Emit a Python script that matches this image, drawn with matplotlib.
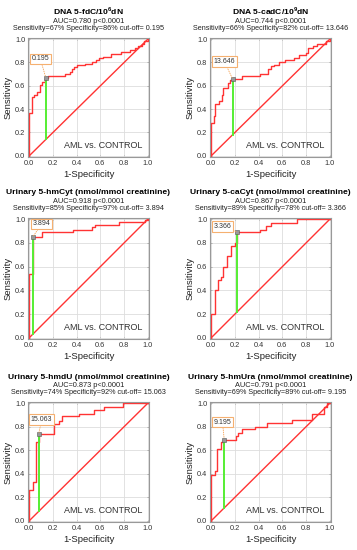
import numpy as np
import matplotlib.pyplot as plt

plt.rcParams['font.family'] = ['Liberation Sans', 'DejaVu Sans']
plt.rcParams['mathtext.fontset'] = 'custom'
plt.rcParams['mathtext.rm'] = 'Liberation Sans'
plt.rcParams['mathtext.bf'] = 'Liberation Sans:bold'

# panel titles and stats lines
titles = [r'DNA 5-fdC/10$^\mathbf{6}$dN', r'DNA 5-cadC/10$^\mathbf{9}$dN',
          'Urinary 5-hmCyt (nmol/mmol creatinine)', 'Urinary 5-caCyt (nmol/mmol creatinine)',
          'Urinary 5-hmdU (nmol/mmol creatinine)', 'Urinary 5-hmUra (nmol/mmol creatinine)']
auc = ['0.780', '0.744', '0.918', '0.867', '0.873', '0.791']
sens = [67, 66, 85, 89, 74, 69]
spec = [86, 82, 97, 78, 92, 89]
cutoff = ['0.195', '13.646', '3.894', '3.366', '15.063', '9.195']

# ROC steps: fpr where tpr jumps, and tpr level after the jump
fpr1 = [0, 0.02, 0.04, 0.07, 0.09, 0.11, 0.13, 0.14, 0.16, 0.30, 0.34, 0.36, 0.38, 0.40, 0.47,
        0.53, 0.56, 0.59, 0.62, 0.69, 0.77, 0.85, 0.89, 0.92, 0.95, 0.97]
tpr1 = [0.37, 0.50, 0.52, 0.55, 0.61, 0.63, 0.66, 0.67, 0.685, 0.70, 0.72, 0.74, 0.765, 0.775, 0.785,
        0.80, 0.82, 0.835, 0.85, 0.87, 0.89, 0.905, 0.92, 0.94, 0.96, 0.98]
fpr2 = [0, 0.02, 0.03, 0.07, 0.09, 0.10, 0.14, 0.16, 0.18, 0.26, 0.41, 0.48, 0.50, 0.53, 0.57,
        0.62, 0.70, 0.74, 0.80, 0.82, 0.86, 0.89, 0.97]
tpr2 = [0.28, 0.34, 0.44, 0.47, 0.52, 0.58, 0.62, 0.65, 0.66, 0.68, 0.70, 0.74, 0.77, 0.78, 0.80,
        0.82, 0.84, 0.86, 0.88, 0.92, 0.94, 0.96, 0.98]
fpr3 = [0, 0.03, 0.11, 0.37, 0.53, 0.555, 0.76, 0.98]
tpr3 = [0.54, 0.85, 0.89, 0.91, 0.93, 0.955, 0.975, 0.99]
fpr4 = [0, 0.03, 0.06, 0.08, 0.10, 0.13, 0.17, 0.20, 0.22, 0.41, 0.46, 0.50, 0.72]
tpr4 = [0.20, 0.40, 0.49, 0.51, 0.60, 0.69, 0.77, 0.80, 0.89, 0.91, 0.94, 0.97, 1.0]
fpr5 = [0, 0.03, 0.06, 0.08, 0.21, 0.25, 0.28, 0.42, 0.55, 0.63, 0.79]
tpr5 = [0.26, 0.33, 0.67, 0.74, 0.82, 0.85, 0.89, 0.91, 0.94, 0.97, 1.0]
fpr6 = [0, 0.03, 0.05, 0.08, 0.10, 0.21, 0.23, 0.26, 0.37, 0.47, 0.68, 0.85, 0.95, 0.98]
tpr6 = [0.39, 0.42, 0.61, 0.67, 0.69, 0.72, 0.75, 0.78, 0.80, 0.83, 0.86, 0.91, 0.97, 1.0]
fprs = [fpr1, fpr2, fpr3, fpr4, fpr5, fpr6]
tprs = [tpr1, tpr2, tpr3, tpr4, tpr5, tpr6]

# label box positions (data coords)
box_x = [0.02, 0.02, 0.03, 0.02, 0.015, 0.02]
box_y = [0.83, 0.81, 0.96, 0.94, 0.86, 0.84]

fig = plt.figure(figsize=(3.57, 5.5), dpi=100)
lefts = [28 / 357, 210 / 357]
rows = [(157, 119), (339, 121), (522, 120)]

for i in range(6):
    r, c = divmod(i, 2)
    bot, h = rows[r]
    ax = fig.add_axes([lefts[c], 1 - bot / 550, 121 / 357, h / 550])
    ax.set_xlim(-0.01, 1.01)
    ax.set_ylim(-0.01, 1.01)
    ax.set_xticks(np.arange(0, 1.01, 0.2))
    ax.set_yticks(np.arange(0, 1.01, 0.2))
    ax.set_xticklabels(['0.0', '0.2', '0.4', '0.6', '0.8', '1.0'])
    ax.set_yticklabels(['0.0', '0.2', '0.4', '0.6', '0.8', '1.0'])
    ax.tick_params(labelsize=5.3, length=1.5, width=0.5, color='#999999', labelcolor='#333333',
                   direction='in', top=True, right=True, pad=2)
    ax.grid(True, color='#dddddd', lw=0.6)
    ax.set_axisbelow(True)
    for s in ax.spines.values():
        s.set_color('#999999')
        s.set_linewidth(0.8)

    ax.plot([0, 1], [0, 1], color='#ff3333', lw=1.0)
    fx = [0] + fprs[i] + [1]
    fy = [0] + tprs[i] + [1]
    ax.step(fx, fy, where='post', color='#ff3333', lw=1.0)

    xc = (100 - spec[i]) / 100
    yc = sens[i] / 100
    ax.plot([xc, xc], [xc, yc], color='#55ee33', lw=1.4)
    ax.plot(xc, yc, 's', ms=2.5, mfc='#999999', mec='#555555', mew=0.4)
    ax.annotate(cutoff[i], xy=(xc, yc), xytext=(box_x[i], box_y[i]), fontsize=5,
                ha='left', va='center', color='#333333',
                bbox=dict(boxstyle='square,pad=0.25', fc='white', ec='#f5b070', lw=0.8),
                arrowprops=dict(arrowstyle='-', color='#f5a050', lw=0.6, ls=':', shrinkA=0, shrinkB=1))

    ax.text(0.95, 0.09, 'AML vs. CONTROL', fontsize=6.5, color='#333333', ha='right', va='center')
    ax.set_xlabel('1-Specificity', fontsize=6.8, color='#222222', labelpad=2)
    ax.set_ylabel('Sensitivity', fontsize=6.8, color='#222222', labelpad=2)

    ax.text(0.5, 1.195, titles[i], transform=ax.transAxes, fontsize=6.1, fontweight='bold',
            ha='center', va='baseline')
    ax.text(0.5, 1.128, 'AUC=%s p<0.0001' % auc[i], transform=ax.transAxes, fontsize=5.3,
            ha='center', va='baseline', color='#222222')
    ax.text(0.5, 1.068, 'Sensitivity=%d%% Specificity=%d%% cut-off= %s' % (sens[i], spec[i], cutoff[i]),
            transform=ax.transAxes, fontsize=5.2, ha='center', va='baseline', color='#222222')

plt.savefig('out.png', dpi=100)
